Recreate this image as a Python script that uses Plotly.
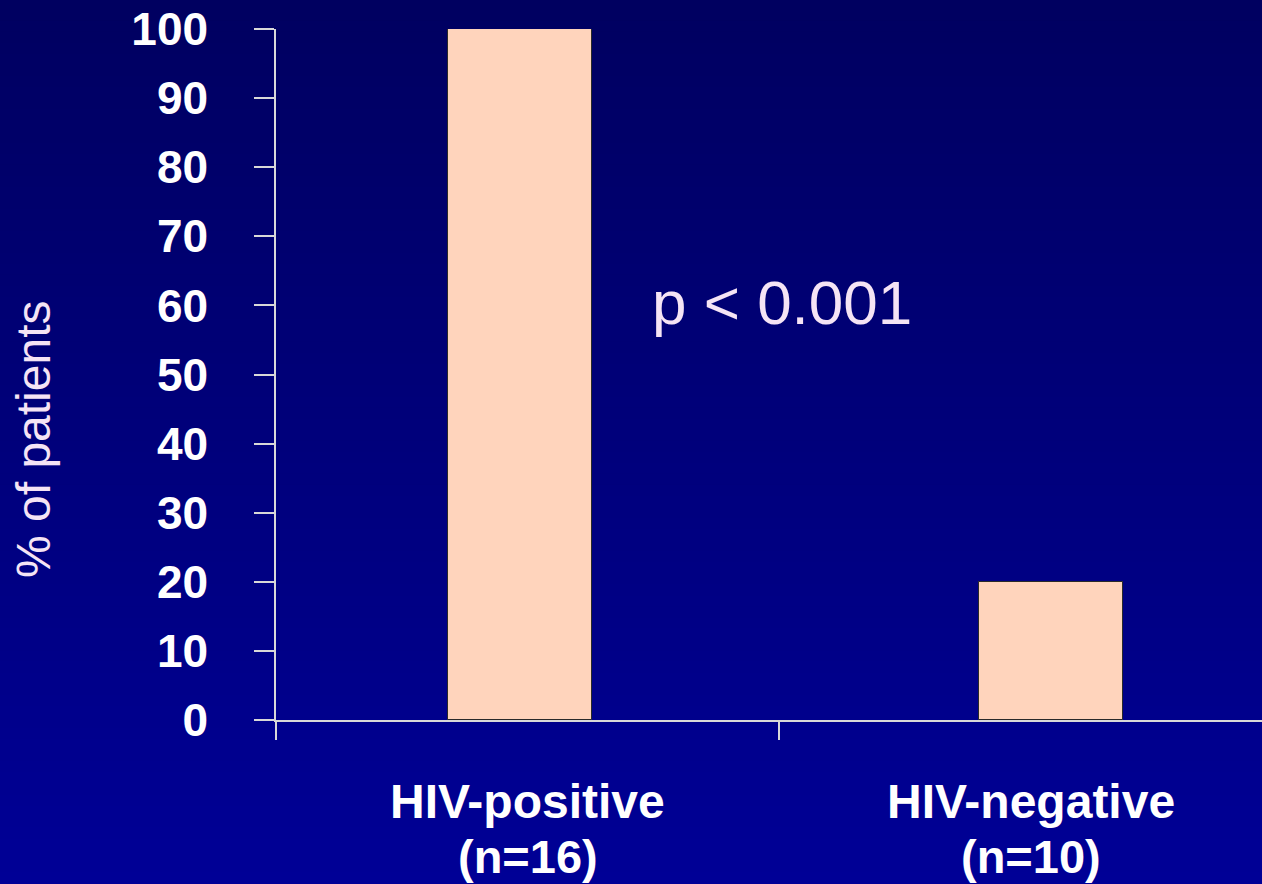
import plotly.graph_objects as go

# ---- data ----
categories = ["HIV-positive", "HIV-negative"]
n_labels = ["(n=16)", "(n=10)"]
percent_patients = [100, 20]
y_ticks = [0, 10, 20, 30, 40, 50, 60, 70, 80, 90, 100]
p_text = "p < 0.001"
y_title = "% of patients"

W, H = 1262, 884
L, R, T, B = 276, 0, 29, 164
plot_h = H - T - B
plot_w = W - L - R

fig = go.Figure()
fig.add_trace(go.Bar(
    x=categories, y=percent_patients,
    width=0.287, offset=[-0.158, -0.103],
    marker=dict(color="#FFD4BC", line=dict(color="#2a2a2a", width=1)),
    hoverinfo="skip", showlegend=False,
))

# gradient background built from thin bands
shapes = []
nb = 80
top_c, bot_c = (0, 0, 96), (0, 0, 150)
for i in range(nb):
    f = (i + 0.5) / nb
    c = tuple(round(top_c[k] + (bot_c[k] - top_c[k]) * f) for k in range(3))
    y1 = 1 + T / plot_h - (i / nb) * (H / plot_h)
    y0 = 1 + T / plot_h - ((i + 1) / nb) * (H / plot_h)
    shapes.append(dict(type="rect", xref="paper", yref="paper",
                       x0=-L / plot_w - 0.01, x1=1.01, y0=y0 - 0.002, y1=y1 + 0.002,
                       fillcolor="rgb(%d,%d,%d)" % c, line=dict(width=0), layer="below"))

FONT = "Liberation Sans, Arial, sans-serif"
annotations = []
# p-value
annotations.append(dict(x=(782 - L) / plot_w, xref="paper", y=60.4, yref="y",
                        text=p_text, showarrow=False, xanchor="center", yanchor="middle",
                        font=dict(family=FONT, size=62, color="#F5E4F5")))
# y title
annotations.append(dict(x=(33 - L) / plot_w, xref="paper", y=(H - B - 439) / plot_h, yref="paper",
                        text=y_title, textangle=-90, showarrow=False, xanchor="center", yanchor="middle",
                        font=dict(family=FONT, size=48, color="#F5E4F5")))
# category labels
for cat, nl in zip(categories, n_labels):
    annotations.append(dict(x=cat, xref="x", y=(H - B - 801) / plot_h, yref="paper",
                            text=cat, showarrow=False, xanchor="center", yanchor="middle",
                            font=dict(family=FONT, size=48, color="white", weight="bold")))
    annotations.append(dict(x=cat, xref="x", y=(H - B - 856) / plot_h, yref="paper",
                            text=nl, showarrow=False, xanchor="center", yanchor="middle",
                            font=dict(family=FONT, size=47, color="white", weight="bold")))

axis_col = "#D8D8D8"
fig.update_layout(
    width=W, height=H,
    margin=dict(l=L, r=R, t=T, b=B, pad=0),
    paper_bgcolor="#000078",
    plot_bgcolor="rgba(0,0,0,0)",
    shapes=shapes,
    annotations=annotations,
    bargap=0,
    xaxis=dict(type="category", range=[-0.5, 1.46], tickson="boundaries",
               ticks="outside", ticklen=18, tickwidth=1.5, tickcolor=axis_col,
               showline=True, linecolor=axis_col, linewidth=1.5,
               showticklabels=False, showgrid=False, zeroline=False),
    yaxis=dict(range=[0, 100], tickvals=y_ticks, ticks="outside", ticklen=20,
               tickwidth=1.5, tickcolor=axis_col, showline=True, linecolor=axis_col, linewidth=1.5,
               showgrid=False, zeroline=False, ticklabelstandoff=37,
               tickfont=dict(family=FONT, size=46, color="white", weight="bold")),
)

fig.write_html("out.html", config={"displayModeBar": False},
               post_script="document.body.style.margin='0';document.body.style.overflow='hidden';")
